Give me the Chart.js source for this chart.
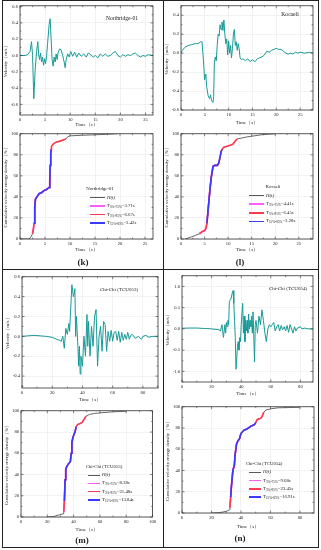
<!DOCTYPE html>
<html lang="en">
<head>
<meta charset="UTF-8">
<title>Velocity and cumulative energy</title>
<style>
  body{margin:0;background:#fff;}
  #fig{position:relative;width:321px;height:550px;overflow:hidden;background:#fff;font-family:"Liberation Serif","Times New Roman",serif;color:#222;}
  #fig canvas{position:absolute;}
  .ln{position:absolute;background:#222;z-index:5;}
  .txt{position:absolute;white-space:nowrap;line-height:1;z-index:6;}
  .lab{font-weight:bold;font-size:9px;transform:translate(-50%,-50%);}
  .sw{position:absolute;height:1.2px;z-index:6;}
  sub{font-size:0.7em;vertical-align:-0.3em;line-height:0;}
</style>
</head>
<body>
<div id="fig">
  <div class="ln" style="left:2px;top:0;width:317px;height:1px"></div>
  <div class="ln" style="left:2px;top:547px;width:317px;height:1px"></div>
  <div class="ln" style="left:2px;top:0;width:1px;height:548px"></div>
  <div class="ln" style="left:318px;top:0;width:1px;height:548px"></div>
  <div class="ln" style="left:163px;top:0;width:1px;height:548px"></div>
  <div class="ln" style="left:2px;top:269px;width:317px;height:1px"></div>
</div>
<script src="https://cdn.jsdelivr.net/npm/chart.js"></script>
<script>
// ---- velocity records (time s, velocity m/s) ----
var kTime = [0,1.0,1.5,2.0,2.3,2.5,2.75,3.0,3.3,3.55,3.7,3.9,4.1,4.3,4.5,4.7,4.9,5.1,5.3,5.5,5.8,6.0,6.2,6.4,6.6,6.8,7.0,7.2,7.4,7.6,7.9,8.2,8.5,8.8,9.0,9.2,9.5,9.8,10.1,10.5,10.9,11.3,11.7,12.2,12.7,13.2,13.6,14.1,14.6,15.0,15.5,16.0,16.5,17.0,17.5,18.0,18.5,19.0,19.5,20.0,20.5,21.0,21.5,22.0,22.5,23.0,23.5,24.0,24.5,25.0,25.5,26.5];
var kVel = [0,0,0.01,0.05,0.17,0.0,-0.53,-0.2,0.05,0.17,0.02,-0.05,0.03,-0.08,-0.02,-0.12,-0.04,-0.1,0.0,0.15,0.38,0.45,0.2,-0.05,-0.13,-0.02,-0.08,0.02,-0.05,0.04,0.08,0.07,0.0,-0.08,-0.15,-0.05,0.02,-0.02,0.05,-0.01,0.04,-0.02,0.03,-0.01,0.02,-0.02,0.03,0.01,-0.02,0.0,-0.03,0.02,-0.01,0.02,-0.01,0.0,0.03,0.05,0.0,-0.02,0.01,-0.01,0.01,0.0,0.02,0.03,0.0,-0.02,0.0,-0.01,0.01,0.0];

var lTime = [0,0.3,0.8,1.5,2.2,3.0,3.6,4.1,4.4,4.6,4.8,4.95,5.2,5.4,5.7,6.0,6.2,6.4,6.7,6.85,7.0,7.2,7.4,7.6,7.8,8.0,8.2,8.4,8.6,8.8,9.0,9.2,9.4,9.6,9.8,10.0,10.2,10.4,10.6,10.8,11.0,11.2,11.4,11.6,11.8,12.0,12.2,12.4,12.7,13.0,13.5,14.0,14.5,15.0,15.5,16.0,16.5,17.0,17.5,18.0,18.5,19.0,19.5,20.0,20.5,21.0,21.5,22.0,22.5,23.0,23.5,24.0,24.5,25.0,26.0,27.0,27.7];
var lVel = [0.0,0.03,0.06,0.08,0.09,0.1,0.1,0.12,0.12,0.0,-0.15,-0.28,-0.22,-0.36,-0.45,-0.48,-0.44,-0.5,-0.52,-0.46,-0.1,-0.04,-0.08,0.08,0.2,0.18,0.3,0.25,0.33,0.24,0.35,0.2,0.1,0.15,-0.02,0.13,0.0,0.08,-0.05,0.05,0.2,0.25,0.08,0.12,0.03,0.1,0.05,-0.05,-0.07,-0.06,-0.08,-0.06,-0.09,-0.07,-0.09,-0.06,-0.05,-0.04,-0.02,0.02,0.01,0.03,0.04,0.05,0.04,0.04,0.02,0.0,-0.01,0.0,-0.01,0.01,0.0,0.01,0.0,0.01,0.0];

var mTime = [0,4,8,12,16,20,23,25,26,27,28,29,30,31,31.5,32,33,34,35,35.5,36,37,37.5,38,38.5,39,40,41,42,43,43.5,44,45,46,47,48,49,50,51,52,53,54,55,56,57,58,59,60,61,62,63,64,65,66,67,68,69,70,71,72,73,75,77,79,80,82,84,86,90];
var mVel = [0,0.005,0.01,0.005,0,-0.01,-0.03,-0.04,-0.05,0.0,-0.12,0.08,0.02,0.13,0.05,0.2,0.52,0.4,0.48,0.0,0.2,-0.1,-0.3,-0.1,-0.38,-0.2,-0.3,0.0,-0.2,0.22,-0.1,0.15,-0.2,0.1,-0.1,0.2,0.27,-0.3,0.0,0.1,-0.15,0.15,0.12,-0.15,0.05,-0.05,0.06,-0.05,0.04,0.05,-0.04,0.05,-0.06,0.04,-0.04,0.02,-0.03,0.04,-0.03,0.01,0.02,-0.02,0.0,-0.03,0.0,0.01,-0.01,0.0,0.0];

var nTime = [0,5,10,15,20,25,26,27,28,29,29.5,30,30.5,31,31.5,32,33,34,34.5,35,35.5,36,36.5,37.5,38,38.5,39,39.5,40,41,41.5,42,42.5,43,43.5,44,44.5,45,45.5,46,46.5,47,47.5,48,49,49.5,50,51,52,53,54,55,56,57,58,59,60,61,62,63,64,65,66,67,68,69,70,71,72,73,74,75,76,77,78,80,81,83,85,88.5];
var nVel = [0.015,0.02,0.02,0.01,0.0,-0.02,-0.05,0.1,-0.2,0.1,-0.1,0.15,0.05,0.2,0.1,0.65,0.7,0.85,0.9,0.6,0.2,-0.2,-0.95,-0.4,-0.3,-0.5,-0.2,-0.3,0.1,0.6,-0.1,0.3,-0.3,0.2,-0.05,0.2,-0.1,0.35,0.0,0.2,0.05,0.3,-0.1,0.4,-0.78,0.1,0.2,-0.1,0.3,0.1,0.45,0.2,-0.1,-0.3,0.0,0.1,0.05,0.1,0.15,-0.05,0.05,0.1,-0.05,0.08,-0.02,0.05,-0.05,0.08,-0.08,0.1,0.0,-0.1,0.05,-0.05,0.02,0.05,0.0,0.02,0.0,0.0];

// ---- cumulative velocity energy density (time s, %) ----
var kCumT = [0,1.8,2.2,2.5,2.7,2.8,2.95,3.1,3.4,3.8,4.3,4.8,5.3,5.8,5.95,6.05,6.15,6.22,6.3,6.6,7.2,8.0,8.6,9.17,9.5,10,12,15,19.5];
var kCumP = [0,0,2,5,10,15,30,38,40,43,44,46,47,49,55,70,80,85,88,90,92,93,94,95,97,98,98.5,99,100];
var lCumT = [0.9,2,3,3.9,4.5,5.0,5.3,5.5,5.8,6.1,6.4,6.8,7.2,7.7,8.0,8.3,8.5,8.7,9.0,9.6,10.4,11.0,11.5,11.9,14,17,20];
var lCumP = [0,1.7,3.3,5,7,8,10,15,30,45,58,69,70,70,72,78,83,85,87,88,89,90,93,95,97,99,100];
var mCumT = [20,25,29,32,32.5,33,33.5,34,35,36,37.5,38.2,38.7,39.5,41,42,43,45,46.5,48,49.5,52,56,60,70,80];
var mCumP = [0,0.5,2,3,5,15,35,45,48,50,52,60,70,75,80,85,87,88,89,92,95,96.5,97.5,98,99,99.5];
var nCumT = [20,25,28,31,32,32.5,33,33.5,34.5,35.5,36,37,38,39,40,42,44,45,47,49,50,51,53,54,55.5,57,60,65,80];
var nCumP = [0,0.3,1,2,3,5,15,25,40,45,55,65,68,70,75,78,79,80,82,83,85,88,89,90,95,97,98,99,99.5];

// ---- significant durations in legends ----
var kDur = ['3.71s','6.67s','3.42s'];
var lDur = ['4.41s','6.45s','3.28s'];
var mDur = ['8.38s','21.48s','13.84s'];
var nDur = ['9.68s','23.45s','16.91s'];

// ---- tick labels ----
var kVelTicks = [-0.6,-0.4,-0.2,0,0.2,0.4,0.6];
var lVelTicks = [-0.6,-0.4,-0.2,0,0.2,0.4];
var mVelTicks = [-0.4,-0.2,0,0.2,0.4,0.6];
var nVelTicks = [-1.0,-0.5,0,0.5,1.0];
var cumTicks = [0,20,40,60,80,100];
var t25Ticks = [0,5,10,15,20,25];
var t80Ticks = [0,20,40,60,80];
var t100Ticks = [0,20,40,60,80,100];

var TEAL = '#189a96', GRAY = '#585858', RED = '#ff3a50', MAG = '#ff5cff', BLUE = '#3a3aff';
var FONT = '"Liberation Serif","Times New Roman",serif';
var L = 20, R = 5, T = 4;
var fig = document.getElementById('fig');

function pts(xs, ys){ return xs.map(function(v,i){ return {x:v, y:ys[i]}; }); }

var boxPlugin = {
  id:'box',
  afterDraw: function(chart){
    var ctx = chart.ctx, a = chart.chartArea, x = chart.scales.x, y = chart.scales.y;
    ctx.save();
    ctx.strokeStyle = '#333';
    ctx.lineWidth = 0.8;
    ctx.strokeRect(a.left, a.top, a.right - a.left, a.bottom - a.top);
    ctx.lineWidth = 0.6;
    function seg(x1,y1,x2,y2){ ctx.beginPath(); ctx.moveTo(x1,y1); ctx.lineTo(x2,y2); ctx.stroke(); }
    function marks(scale, horiz){
      var v = scale.ticks.map(function(t){ return t.value; });
      var all = [];
      v.forEach(function(t,i){ all.push([t,2.5]); if(i < v.length-1) all.push([(t+v[i+1])/2,1.4]); });
      if (v.length > 1) { var st = v[1]-v[0]; all.push([v[v.length-1]+st/2,1.4]); all.push([v[0]-st/2,1.4]); }
      all.forEach(function(m){
        var p = scale.getPixelForValue(m[0]);
        if (horiz) { if (p < a.left || p > a.right) return; seg(p,a.bottom,p,a.bottom-m[1]); seg(p,a.top,p,a.top+m[1]); }
        else { if (p < a.top || p > a.bottom) return; seg(a.left,p,a.left+m[1],p); seg(a.right,p,a.right-m[1],p); }
      });
    }
    marks(x, true); marks(y, false);
    ctx.restore();
  }
};

function plot(o){
  var c = document.createElement('canvas');
  var w = o.box[2] - o.box[0] + L + R, h = o.box[3] - o.box[1] + T + o.B;
  c.width = w; c.height = h;
  c.style.left = (o.box[0] - L) + 'px';
  c.style.top = (o.box[1] - T) + 'px';
  fig.appendChild(c);
  new Chart(c, {
    type:'line',
    data:{datasets:o.datasets},
    options:{
      responsive:false, animation:false, events:[],
      layout:{padding:{left:0, right:R, top:T, bottom:0}},
      elements:{point:{radius:0}, line:{tension:0}},
      plugins:{legend:{display:false}, tooltip:{enabled:false}},
      scales:{
        x:{
          type:'linear', min:o.xr[0], max:o.xr[1],
          afterBuildTicks:function(s){ s.ticks = o.xt.map(function(v){ return {value:v}; }); },
          afterFit:function(s){ s.height = o.B; },
          grid:{color:'#e4e4e4', lineWidth:0.5, drawTicks:false},
          border:{display:false},
          ticks:{autoSkip:false, maxRotation:0, padding:2, color:'#222', font:{family:FONT, size:4.6}},
          title:{display:true, text:'Time（s）', color:'#222', font:{family:FONT, size:5}, padding:{top:0, bottom:o.tp}}
        },
        y:{
          type:'linear', min:o.yr[0], max:o.yr[1],
          afterBuildTicks:function(s){ s.ticks = o.yt.map(function(v){ return {value:v}; }); },
          afterFit:function(s){ s.width = L; },
          grid:{color:'#e4e4e4', lineWidth:0.5, drawTicks:false},
          border:{display:false},
          ticks:{autoSkip:false, padding:2, color:'#222', font:{family:FONT, size:4.6},
                 callback:function(v){ return o.yd ? Number(v).toFixed(o.yd) : v; }},
          title:{display:true, text:o.ytitle, color:'#222', font:{family:FONT, size:o.ys || 5}, padding:{top:3, bottom:0}}
        }
      }
    },
    plugins:[boxPlugin]
  });
}

function velSet(xs, ys){ return [{data:pts(xs, ys), borderColor:TEAL, borderWidth:1}]; }

function cumSets(xs, ys){
  var all = pts(xs, ys);
  function pick(lo, hi){ return all.filter(function(q){ return q.y >= lo && q.y <= hi; }); }
  return [
    {data:pick(15,85), borderColor:BLUE, borderWidth:1.6},
    {data:pick(5,95), borderColor:RED, borderWidth:1.6},
    {data:pick(5,75), borderColor:MAG, borderWidth:1.6},
    {data:all, borderColor:GRAY, borderWidth:0.9}
  ];
}

var VT = 'Velocity（m/s）', CT = 'Cumulative velocity energy density（%）';

plot({box:[20,5,153,115], B:13, tp:0, xr:[0,26.5], xt:t25Ticks, yr:[-0.73,0.61], yt:kVelTicks, yd:1, ytitle:VT, datasets:velSet(kTime,kVel)});
plot({box:[20,133,153,239], B:14, tp:0, xr:[0,26.6], xt:t25Ticks, yr:[0,100], yt:cumTicks, ytitle:CT, ys:4.8, datasets:cumSets(kCumT,kCumP)});
plot({box:[181,5,313,110], B:16, tp:0, xr:[0,27.7], xt:t25Ticks, yr:[-0.6,0.5], yt:lVelTicks, yd:1, ytitle:VT, datasets:velSet(lTime,lVel)});
plot({box:[181,133,313,239], B:14, tp:0, xr:[0,28], xt:t25Ticks, yr:[0,100], yt:cumTicks, ytitle:CT, ys:4.8, datasets:cumSets(lCumT,lCumP)});
plot({box:[22,276,158,388], B:15, tp:0, xr:[0,90], xt:t80Ticks, yr:[-0.52,0.6], yt:mVelTicks, yd:1, ytitle:VT, datasets:velSet(mTime,mVel)});
plot({box:[21,410,153,517], B:16, tp:0, xr:[0,100], xt:t100Ticks, yr:[0,100], yt:cumTicks, ytitle:CT, ys:4.8, datasets:cumSets(mCumT,mCumP)});
plot({box:[182,275,313,382], B:15, tp:0, xr:[0,88.5], xt:t80Ticks, yr:[-1.25,1.25], yt:nVelTicks, yd:1, ytitle:VT, datasets:velSet(nTime,nVel)});
plot({box:[182,406,314,513], B:17, tp:0, xr:[0,89.5], xt:t80Ticks, yr:[0,100], yt:cumTicks, ytitle:CT, ys:4.8, datasets:cumSets(nCumT,nCumP)});

function text(html, x, y, size, cls, anchor){
  var d = document.createElement('div');
  d.className = 'txt' + (cls ? ' ' + cls : '');
  d.innerHTML = html;
  d.style.left = x + 'px'; d.style.top = y + 'px';
  if (size) d.style.fontSize = size + 'px';
  d.style.transform = anchor === 'c' ? 'translate(-50%,-50%)' : 'translate(0,-50%)';
  fig.appendChild(d);
}

function legend(sx, sw, y0, dy, title, titleX, dur){
  text(title, titleX, y0, 4.8, '', 'c');
  var rows = [
    [GRAY, '<i>H(t)</i>', 0.9],
    [MAG, 'T<sub>5%-75%</sub>=' + dur[0], 1.6],
    [RED, 'T<sub>5%-95%</sub>=' + dur[1], 1.6],
    [BLUE, 'T<sub>15%-85%</sub>=' + dur[2], 1.6]
  ];
  rows.forEach(function(r, i){
    var y = y0 + dy * (i + 1);
    var s = document.createElement('div');
    s.className = 'sw';
    s.style.left = sx + 'px'; s.style.top = (y - r[2]/2) + 'px';
    s.style.width = sw + 'px'; s.style.height = r[2] + 'px';
    s.style.background = r[0];
    fig.appendChild(s);
    text(r[1], sx + sw + 2, y, 4.8, '', 'l');
  });
}

legend(90, 15, 189, 8.5, 'Northridge-01', 100, kDur);
legend(249, 15, 187, 8.6, 'Kocaeli', 273, lDur);
legend(88, 12, 467, 8.2, 'Chi-Chi (TCU053)', 104, mDur);
legend(249, 12, 464, 8.3, 'Chi-Chi (TCU054)', 264, nDur);

text('Northridge-01', 122, 19, 5.6, '', 'c');
text('Kocaeli', 290, 15, 5.6, '', 'c');
text('Chi-Chi (TCU053)', 119, 289, 5, '', 'c');
text('Chi-Chi (TCU054)', 288, 288, 5, '', 'c');

text('(k)', 83, 262, 0, 'lab', 'c');
text('(l)', 240, 262, 0, 'lab', 'c');
text('(m)', 82, 540, 0, 'lab', 'c');
text('(n)', 240, 538, 0, 'lab', 'c');
</script>
</body>
</html>
